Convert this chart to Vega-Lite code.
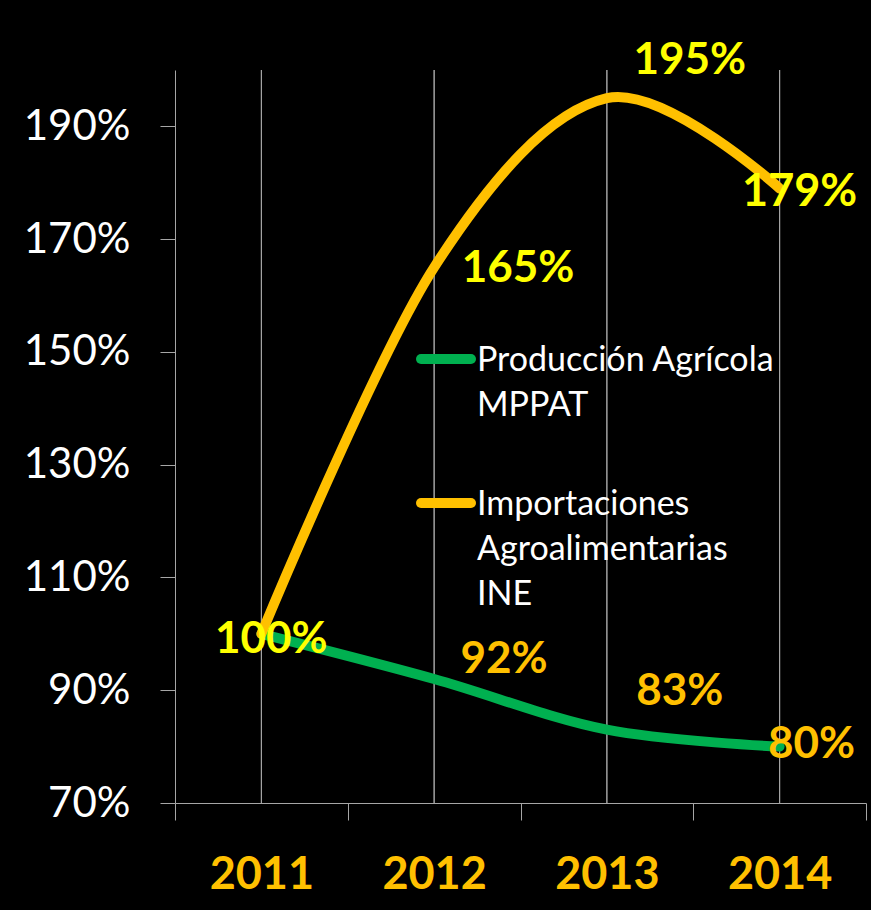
{
  "$schema": "https://vega.github.io/schema/vega-lite/v6.json",
  "width": 691,
  "height": 733,
  "autosize": {"type": "none"},
  "padding": {"left": 175, "top": 70, "right": 5, "bottom": 107},
  "background": "#000000",
  "config": {"view": {"stroke": null}, "font": "Lato"},
  "data": {
    "values": [
      {"year": "2011", "series": "Producción Agrícola MPPAT", "value": 100},
      {"year": "2012", "series": "Producción Agrícola MPPAT", "value": 92},
      {"year": "2013", "series": "Producción Agrícola MPPAT", "value": 83},
      {"year": "2014", "series": "Producción Agrícola MPPAT", "value": 80},
      {"year": "2011", "series": "Importaciones Agroalimentarias INE", "value": 100},
      {"year": "2012", "series": "Importaciones Agroalimentarias INE", "value": 165},
      {"year": "2013", "series": "Importaciones Agroalimentarias INE", "value": 195},
      {"year": "2014", "series": "Importaciones Agroalimentarias INE", "value": 179}
    ]
  },
  "transform": [{"calculate": "datum.value + '%'", "as": "label"}],
  "encoding": {
    "x": {
      "field": "year", "type": "nominal",
      "scale": {"type": "band", "paddingInner": 0, "paddingOuter": 0},
      "axis": {
        "title": null, "labelAngle": 0, "grid": false, "tickBand": "extent",
        "domainColor": "#A6A6A6", "tickColor": "#A6A6A6", "tickSize": 17,
        "labelColor": "#FFC000", "labelFont": "Lato", "labelFontWeight": "bold",
        "labelFontSize": 45, "labelPadding": 32
      }
    },
    "y": {
      "field": "value", "type": "quantitative",
      "scale": {"domain": [70, 200], "nice": false, "zero": false},
      "axis": {
        "title": null, "grid": false, "values": [70, 90, 110, 130, 150, 170, 190],
        "labelExpr": "datum.value + '%'",
        "domainColor": "#A6A6A6", "tickColor": "#A6A6A6", "tickSize": 15,
        "labelColor": "#FFFFFF", "labelFont": "Lato", "labelFontSize": 42,
        "labelPadding": 30
      }
    }
  },
  "layer": [
    {
      "mark": {"type": "rule", "color": "#A6A6A6", "strokeWidth": 1},
      "encoding": {"y": {"value": 0}, "y2": {"value": 733}}
    },
    {
      "mark": {"type": "line", "interpolate": "cardinal", "strokeWidth": 10, "strokeCap": "round"},
      "encoding": {
        "color": {
          "field": "series", "type": "nominal",
          "scale": {
            "domain": ["Producción Agrícola MPPAT", "Importaciones Agroalimentarias INE"],
            "range": ["#00B050", "#FFC000"]
          },
          "legend": {
            "orient": "none", "legendX": 241, "legendY": 259,
            "title": null, "symbolType": "stroke", "symbolSize": 2500,
            "symbolStrokeWidth": 10, "labelOffset": 1,
            "labelColor": "#FFFFFF", "labelFont": "Lato", "labelFontSize": 34,
            "labelBaseline": "top", "labelLimit": 400, "rowPadding": 50,
            "labelExpr": "datum.label == 'Producción Agrícola MPPAT' ? ['Producción Agrícola', 'MPPAT'] : ['Importaciones', 'Agroalimentarias', 'INE']",
            "encode": {
              "labels": {"update": {"lineHeight": {"value": 45}, "dy": {"value": -15}}},
              "symbols": {"update": {"strokeCap": {"value": "round"}}}
            }
          }
        },
        "order": {"field": "year"}
      }
    },
    {
      "transform": [{"filter": "datum.series == 'Importaciones Agroalimentarias INE' && datum.year == '2011'"}],
      "mark": {"type": "text", "color": "#FFFF00", "font": "Lato", "fontWeight": "bold", "fontSize": 44, "dx": 10, "dy": 6},
      "encoding": {"text": {"field": "label"}}
    },
    {
      "transform": [{"filter": "datum.series == 'Importaciones Agroalimentarias INE' && datum.year == '2012'"}],
      "mark": {"type": "text", "color": "#FFFF00", "font": "Lato", "fontWeight": "bold", "fontSize": 44, "dx": 84, "dy": 2},
      "encoding": {"text": {"field": "label"}}
    },
    {
      "transform": [{"filter": "datum.series == 'Importaciones Agroalimentarias INE' && datum.year == '2013'"}],
      "mark": {"type": "text", "color": "#FFFF00", "font": "Lato", "fontWeight": "bold", "fontSize": 44, "dx": 83, "dy": -37},
      "encoding": {"text": {"field": "label"}}
    },
    {
      "transform": [{"filter": "datum.series == 'Importaciones Agroalimentarias INE' && datum.year == '2014'"}],
      "mark": {"type": "text", "color": "#FFFF00", "font": "Lato", "fontWeight": "bold", "fontSize": 45, "dx": 20, "dy": 4},
      "encoding": {"text": {"field": "label"}}
    },
    {
      "transform": [{"filter": "datum.series == 'Producción Agrícola MPPAT' && datum.year == '2012'"}],
      "mark": {"type": "text", "color": "#FFC000", "font": "Lato", "fontWeight": "bold", "fontSize": 44, "dx": 70, "dy": -19},
      "encoding": {"text": {"field": "label"}}
    },
    {
      "transform": [{"filter": "datum.series == 'Producción Agrícola MPPAT' && datum.year == '2013'"}],
      "mark": {"type": "text", "color": "#FFC000", "font": "Lato", "fontWeight": "bold", "fontSize": 44, "dx": 73, "dy": -38},
      "encoding": {"text": {"field": "label"}}
    },
    {
      "transform": [{"filter": "datum.series == 'Producción Agrícola MPPAT' && datum.year == '2014'"}],
      "mark": {"type": "text", "color": "#FFC000", "font": "Lato", "fontWeight": "bold", "fontSize": 44, "dx": 32, "dy": -2},
      "encoding": {"text": {"field": "label"}}
    }
  ]
}
